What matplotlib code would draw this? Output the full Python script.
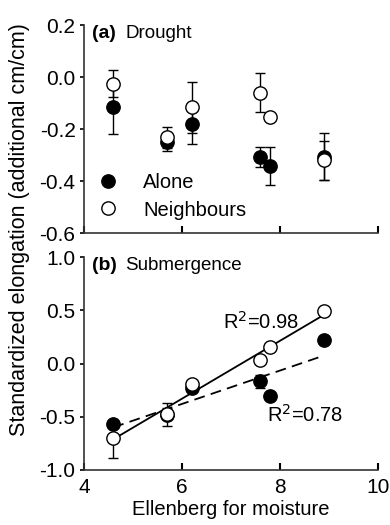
import numpy as np
import matplotlib
matplotlib.use("Agg")
import matplotlib.pyplot as plt
from matplotlib.lines import Line2D

plt.rcParams['font.family'] = ['Liberation Sans', 'DejaVu Sans']

# Ellenberg moisture values of the six species
ellenberg = [4.6, 5.7, 6.2, 7.6, 7.8, 8.9]

# (a) Drought
drought_alone = [-0.116, -0.25, -0.181, -0.306, -0.341, -0.306]
drought_alone_err = [0.103, 0.034, 0.078, 0.038, 0.072, 0.09]
drought_neigh = [-0.025, -0.231, -0.116, -0.059, -0.153, -0.319]
drought_neigh_err = [0.053, 0.04, 0.097, 0.075, 0.01, 0.075]

# (b) Submergence
sub_alone = [-0.569, -0.48, -0.234, -0.166, -0.303, 0.225]
sub_alone_err = [0.03, 0.11, 0.03, 0.06, 0.02, 0.03]
sub_neigh = [-0.703, -0.47, -0.19, 0.0375, 0.156, 0.49]
sub_neigh_err_lo = [0.19, 0.05, 0.03, 0.03, 0.03, 0.02]
sub_neigh_err_hi = [0.03, 0.05, 0.03, 0.03, 0.03, 0.02]

r2_neigh = "R$^2$=0.98"
r2_alone = "R$^2$=0.78"

TICK_FS = 15
spine_col = '#333333'

fig = plt.figure(figsize=(3.9, 5.25), dpi=100)
ax_a = fig.add_axes([0.215, 0.556, 0.754, 0.396])
ax_b = fig.add_axes([0.215, 0.105, 0.754, 0.405])

mk = dict(ms=9.6, capsize=3.6, elinewidth=1.0, capthick=1.0, ecolor='black',
          markeredgecolor='black', markeredgewidth=1.0, linestyle='none')

############################################################################################################
# panel a
ax_a.errorbar(ellenberg, drought_alone, yerr=drought_alone_err, fmt='o', mfc='black', zorder=3, **mk)
ax_a.errorbar(ellenberg, drought_neigh, yerr=drought_neigh_err, fmt='o', mfc='white', zorder=4, **mk)
ax_a.set_ylim(-0.6, 0.2)
ax_a.set_yticks([-0.6, -0.4, -0.2, 0.0, 0.2])
ax_a.set_yticklabels([f"{v:.1f}" for v in [-0.6, -0.4, -0.2, 0.0, 0.2]])
ax_a.tick_params(axis='x', labelbottom=False)
ax_a.text(0.027, 0.96, "(a)", transform=ax_a.transAxes, fontsize=14, fontweight='bold', va='center')
ax_a.text(0.14, 0.96, "Drought", transform=ax_a.transAxes, fontsize=13.5, va='center')

handles = [Line2D([], [], marker='o', ls='none', ms=9.6, mfc='black', mec='black'),
           Line2D([], [], marker='o', ls='none', ms=9.6, mfc='white', mec='black')]
ax_a.legend(handles, ["Alone", "Neighbours"], loc='lower left', bbox_to_anchor=(0.034, 0.046),
            frameon=False, fontsize=14.5, handlelength=1.0, handletextpad=1.25,
            labelspacing=0.4, borderpad=0.2, borderaxespad=0)

############################################################################################################
# panel b
ax_b.errorbar(ellenberg, sub_alone, yerr=sub_alone_err, fmt='o', mfc='black', zorder=3, **mk)
ax_b.errorbar(ellenberg, sub_neigh, yerr=[sub_neigh_err_lo, sub_neigh_err_hi], fmt='o', mfc='white', zorder=4, **mk)

x = np.array(ellenberg)
p_n = np.polyfit(x, sub_neigh, 1)
p_a = np.polyfit(x, sub_alone, 1)
xl = np.array([x.min(), x.max()])
ax_b.plot(xl, np.polyval(p_n, xl), color='black', lw=1.3, zorder=2)
ax_b.plot(xl, np.polyval(p_a, xl), color='black', lw=1.3, ls=(0, (6, 3.5)), zorder=2)
ax_b.text(6.84, 0.39, r2_neigh, fontsize=14.5, va='center')
ax_b.text(7.73, -0.48, r2_alone, fontsize=14.5, va='center')

ax_b.set_ylim(-1.0, 1.0)
ax_b.set_yticks([-1.0, -0.5, 0.0, 0.5, 1.0])
ax_b.set_yticklabels([f"{v:.1f}" for v in [-1.0, -0.5, 0.0, 0.5, 1.0]])
ax_b.set_xlabel("Ellenberg for moisture", fontsize=14.5, labelpad=2)
ax_b.text(0.027, 0.96, "(b)", transform=ax_b.transAxes, fontsize=14, fontweight='bold', va='center')
ax_b.text(0.14, 0.96, "Submergence", transform=ax_b.transAxes, fontsize=13.5, va='center')

for ax in (ax_a, ax_b):
    ax.set_xlim(4, 10)
    ax.set_xticks([4, 6, 8, 10])
    ax.spines['top'].set_visible(False)
    ax.spines['right'].set_visible(False)
    for s in ('left', 'bottom'):
        ax.spines[s].set_color(spine_col)
        ax.spines[s].set_linewidth(1.2)
    ax.tick_params(axis='x', direction='in', length=5, width=1.5, labelsize=TICK_FS, pad=6, color='black')
    ax.tick_params(axis='y', direction='out', length=3, width=1.2, labelsize=TICK_FS, pad=3, color='black')

fig.text(0.05, 0.562, "Standardized elongation (additional cm/cm)", rotation=90,
         fontsize=15.5, ha='center', va='center')

fig.savefig("out.png", dpi=100)
